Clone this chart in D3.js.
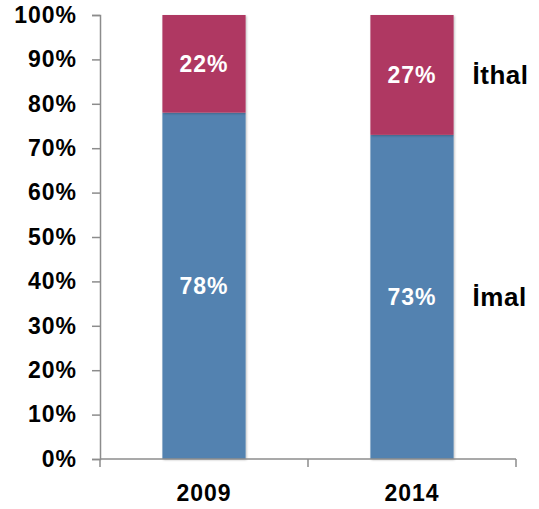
<!DOCTYPE html>
<html>
<head>
<meta charset="utf-8">
<script src="https://cdn.jsdelivr.net/npm/d3@7"></script>
<style>
  body { margin: 0; background: #fff; }
  text { font-family: "Liberation Sans", Arial, sans-serif; font-weight: bold; }
</style>
</head>
<body>
<div id="chart"></div>
<script>
'use strict';

// Data
var years = ['2009', '2014'];
var seriesNames = ['İmal', 'İthal'];
var imal = [78, 73];
var ithal = [22, 27];
var yTicks = [0, 10, 20, 30, 40, 50, 60, 70, 80, 90, 100];
var colors = ['#5282B0', '#AF3862'];

var width = 539, height = 509;
var margin = {top: 15, right: 23, bottom: 50, left: 100};
var innerW = width - margin.left - margin.right;
var innerH = height - margin.top - margin.bottom;

var svg = d3.select('#chart').append('svg')
  .attr('width', width)
  .attr('height', height);

var defs = svg.append('defs');
var shadow = defs.append('filter').attr('id', 'shadow')
  .attr('x', '-10%').attr('y', '-5%').attr('width', '120%').attr('height', '110%');
shadow.append('feDropShadow')
  .attr('dx', 1).attr('dy', 1).attr('stdDeviation', 1.2)
  .attr('flood-color', '#000').attr('flood-opacity', 0.25);

var g = svg.append('g')
  .attr('transform', 'translate(' + margin.left + ',' + margin.top + ')');

var x = d3.scaleBand().domain(years).range([0, innerW])
  .paddingInner(0.6).paddingOuter(0.3);
var y = d3.scaleLinear().domain([0, 100]).range([innerH, 0]);

var table = years.map(function(yr, i) {
  return {year: yr, 'İmal': imal[i], 'İthal': ithal[i]};
});
var stacked = d3.stack().keys(seriesNames)(table);

// Bars
var layers = g.selectAll('.layer').data(stacked).enter().append('g')
  .attr('class', 'layer')
  .attr('fill', function(d, i) { return colors[i]; });

layers.selectAll('rect').data(function(d) { return d; }).enter().append('rect')
  .attr('x', function(d) { return x(d.data.year); })
  .attr('y', function(d) { return y(d[1]); })
  .attr('width', x.bandwidth())
  .attr('height', function(d) { return y(d[0]) - y(d[1]); })
  .attr('filter', 'url(#shadow)');

// Value labels
layers.selectAll('text').data(function(d) { return d; }).enter().append('text')
  .attr('x', function(d) { return x(d.data.year) + x.bandwidth() / 2; })
  .attr('y', function(d) { return (y(d[0]) + y(d[1])) / 2; })
  .attr('dy', '0.36em')
  .attr('text-anchor', 'middle')
  .attr('fill', '#fff')
  .style('font-size', '23px')
  .style('letter-spacing', '1px')
  .text(function(d) { return (d[1] - d[0]) + '%'; });

// Series labels beside last bar
var last = years[years.length - 1];
g.selectAll('.series-label').data(stacked).enter().append('text')
  .attr('class', 'series-label')
  .attr('x', x(last) + x.bandwidth() + 19)
  .attr('y', function(d) { var p = d[d.length - 1]; return (y(p[0]) + y(p[1])) / 2; })
  .attr('dy', '0.36em')
  .attr('fill', '#000')
  .style('font-size', '26px')
  .style('letter-spacing', '0.5px')
  .text(function(d) { return d.key; });

// Y axis
var yAxis = g.append('g')
  .call(d3.axisLeft(y).tickValues(yTicks).tickSize(8).tickPadding(15)
    .tickFormat(function(d) { return d + '%'; }));
yAxis.selectAll('text')
  .attr('fill', '#000')
  .style('font-size', '23px')
  .style('letter-spacing', '1px');
yAxis.select('.domain').attr('stroke', '#8c8c8c').attr('stroke-width', 1.5);
yAxis.selectAll('.tick line').attr('stroke', '#8c8c8c').attr('stroke-width', 1.5);

// X axis with ticks at category boundaries
var xAxis = g.append('g').attr('transform', 'translate(0,' + innerH + ')');
xAxis.append('line')
  .attr('x1', 0).attr('x2', innerW)
  .attr('stroke', '#8c8c8c').attr('stroke-width', 1.5);
var bounds = d3.range(years.length + 1).map(function(i) { return i * x.step(); });
xAxis.selectAll('.xtick').data(bounds).enter().append('line')
  .attr('class', 'xtick')
  .attr('x1', function(d) { return d; }).attr('x2', function(d) { return d; })
  .attr('y1', 0).attr('y2', 8)
  .attr('stroke', '#8c8c8c').attr('stroke-width', 1.5);
xAxis.selectAll('.xlabel').data(years).enter().append('text')
  .attr('class', 'xlabel')
  .attr('x', function(d) { return x(d) + x.bandwidth() / 2; })
  .attr('y', 34)
  .attr('dy', '0.36em')
  .attr('text-anchor', 'middle')
  .attr('fill', '#000')
  .style('font-size', '23px')
  .style('letter-spacing', '1px')
  .text(function(d) { return d; });
</script>
</body>
</html>
